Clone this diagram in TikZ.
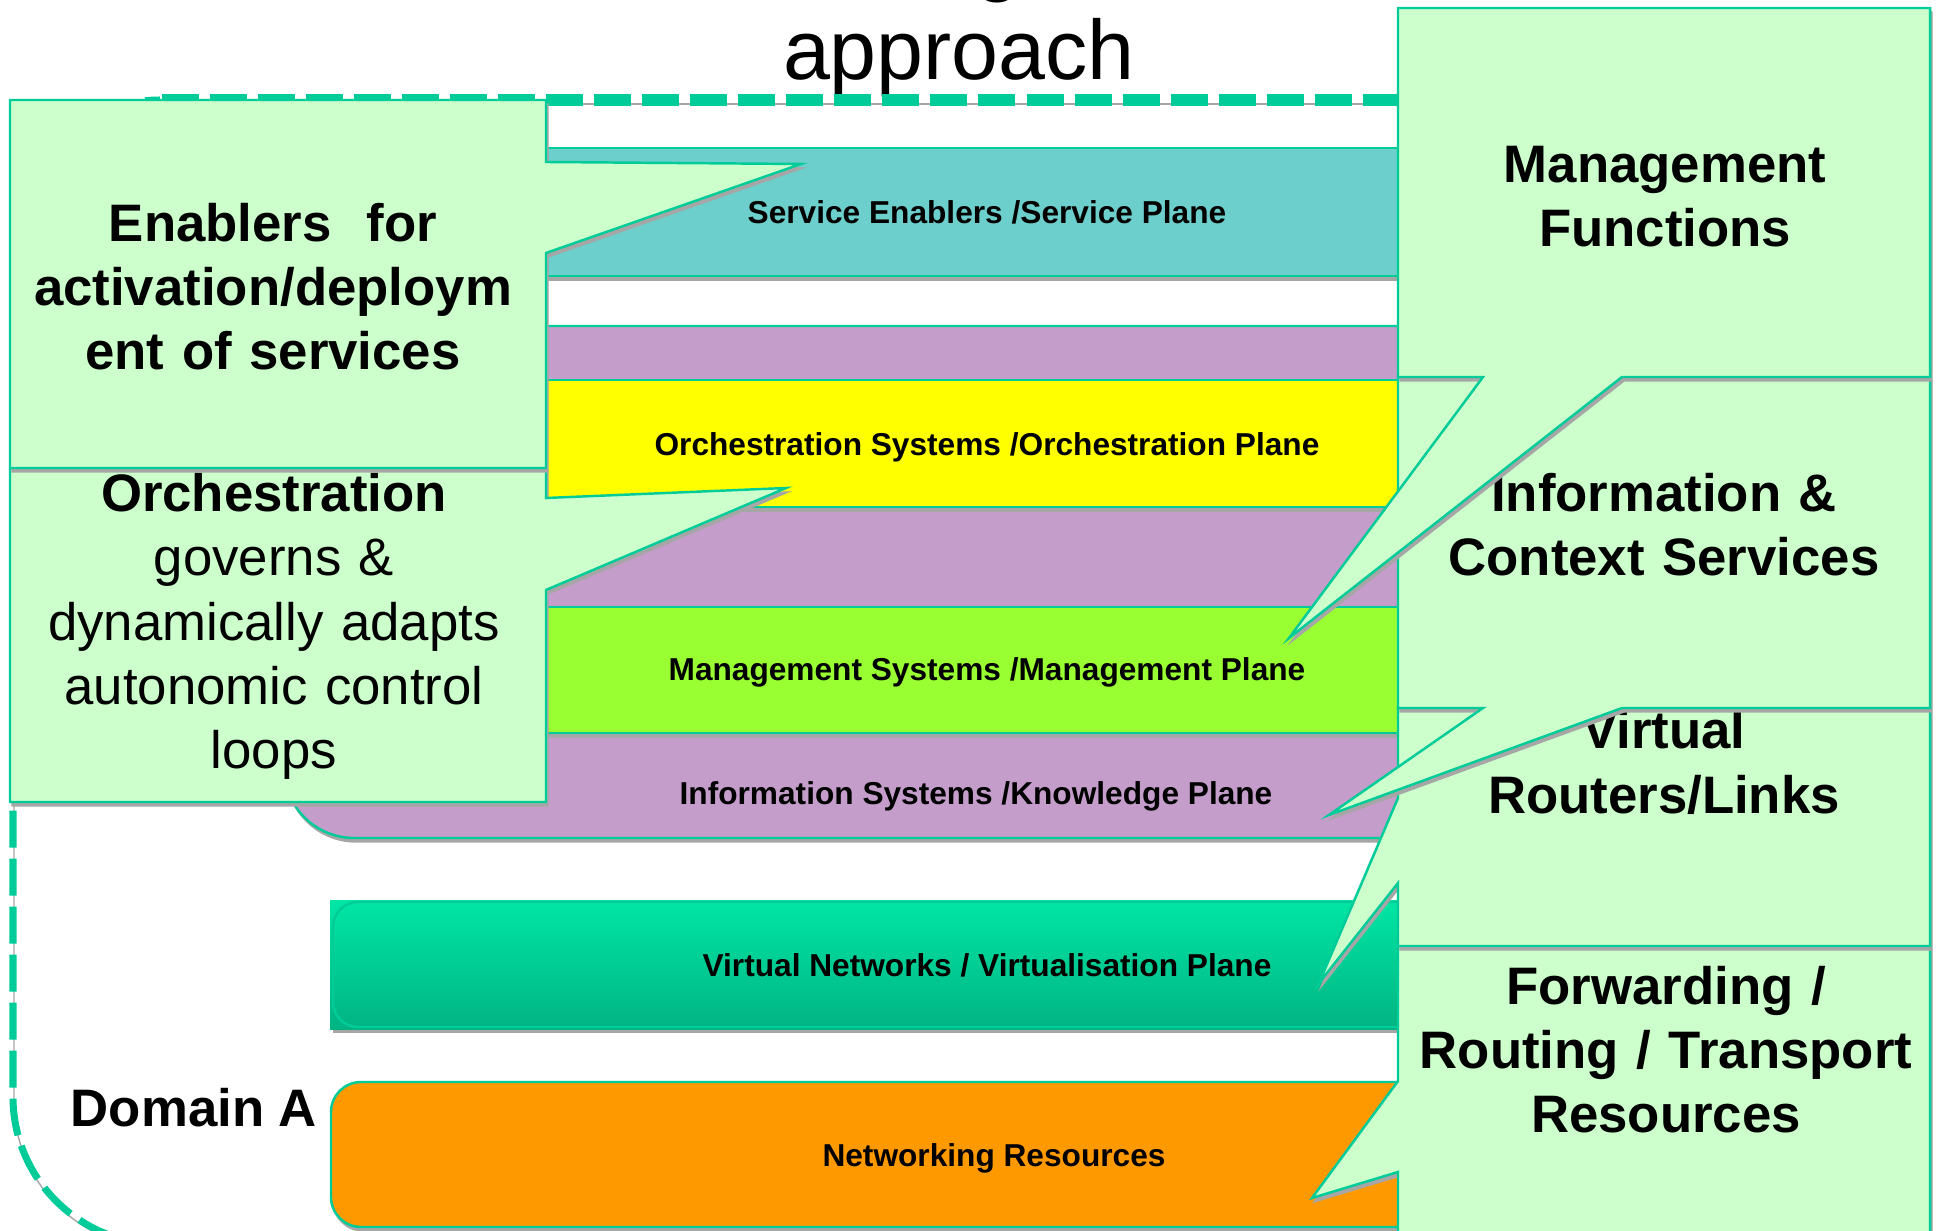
\documentclass[tikz,border=0pt]{standalone}
\usepackage{fontspec}
\setmainfont{Liberation Sans}
\definecolor{calloutfill}{HTML}{CCFFCC}
\definecolor{edgegreen}{HTML}{00CC99}
\definecolor{shadowgray}{HTML}{A6A6A6}
\definecolor{serviceteal}{HTML}{6CCFCB}
\definecolor{knowpurple}{HTML}{C49DCB}
\definecolor{orchyellow}{HTML}{FFFF00}
\definecolor{mgmtgreen}{HTML}{99FF33}
\definecolor{virttop}{HTML}{00E6A5}
\definecolor{virtbot}{HTML}{00B482}
\definecolor{resorange}{HTML}{FF9900}
\begin{document}
\begin{tikzpicture}[x=0.01cm,y=-0.01cm]

    \tikzset{
      drop/.style={
        preaction={fill=shadowgray, draw=shadowgray, transform canvas={shift={(2,4)}}},
      },
      band/.style={
        drop,
        draw=edgegreen,
        line width=0.7pt,
      },
      callout/.style={
        drop,
        fill=calloutfill,
        draw=edgegreen,
        line width=0.7pt,
      },
      domainline/.style={
        draw=edgegreen,
        dash pattern=on 0.37cm off 0.11cm,
        preaction={draw=shadowgray, transform canvas={shift={(1,4)}}},
      },
      planelabel/.style={
        anchor=base,
        font=\fontsize{9}{11}\selectfont\bfseries,
      },
      calloutlabel/.style={
        anchor=base,
        text width=5.3cm,
        align=center,
        inner sep=0pt,
        font=\fontsize{15}{18.2}\selectfont,
      },
      calloutbold/.style={
        calloutlabel,
        font=\fontsize{15}{18.2}\selectfont\bfseries,
      },
    }
    \useasboundingbox (0,0) rectangle (1939,1231);
    \clip (0,0) rectangle (1939,1231);

	\node[anchor=base, font=\fontsize{24}{29}\selectfont] (titleg) at (998,-14) {g};
	\node[anchor=base, font=\fontsize{24}{29}\selectfont] (title) at (959,80) {approach};

	\draw[domainline, line width=0.12cm] (162,100) -- (1500,100);
	\draw[domainline, line width=0.07cm, dash phase=0.22cm] (160,100) arc[start angle=270, end angle=180, radius=147] -- (13,1097) arc[start angle=180, end angle=90, radius=147];

	\draw[band, fill=knowpurple, rounded corners=0.7cm] (284,326) rectangle (1500,838);
	\draw[band, fill=serviceteal] (500,148) rectangle (1500,276);
	\draw[band, fill=orchyellow] (500,380) rectangle (1500,507);
	\draw[band, fill=mgmtgreen] (500,607) rectangle (1500,733);
	\fill[shadowgray] (333,905) rectangle (1500,1033);
	\shade[top color=virttop, bottom color=virtbot] (330,900) rectangle (1500,1029);
	\draw[edgegreen, line width=0.7pt, rounded corners=0.25cm] (333,902) rectangle (1510,1027);
	\draw[band, fill=resorange, rounded corners=0.3cm] (331,1082) rectangle (1500,1227);

	\node[planelabel] (serviceplane) at (987,224) {Service Enablers /Service Plane};
	\node[planelabel] (orchplane) at (987,456) {Orchestration Systems /Orchestration Plane};
	\node[planelabel] (mgmtplane) at (987,681) {Management Systems /Management Plane};
	\node[planelabel] (knowplane) at (976,805) {Information Systems /Knowledge Plane};
	\node[planelabel] (virtplane) at (987,976) {Virtual Networks / Virtualisation Plane};
	\node[planelabel] (netres) at (994,1166) {Networking Resources};

	\node[anchor=base, font=\fontsize{15}{18}\selectfont\bfseries] (domain) at (194,1126) {Domain A};

	\draw[callout] (10,468) -- (546,468) -- (546,498) -- (786,488) -- (546,590) -- (546,802) -- (10,802) -- cycle;
	\node[calloutlabel] (orchestration) at (274,512) {\textbf{Orchestration}\\governs \&\\dynamically adapts\\autonomic control\\loops};
	\draw[callout] (10,100) -- (546,100) -- (546,162) -- (801,164) -- (546,253) -- (546,468) -- (10,468) -- cycle;
	\node[calloutbold] (enablers) at (273,242) {Enablers~ for\\activation/deploym\\ent of services};

	\draw[callout] (1398,946) -- (1930,946) -- (1930,1260) -- (1398,1260) -- (1398,1172) -- (1312,1198) -- (1398,1081) -- cycle;
	\node[calloutbold] (forwarding) at (1666,1004) {Forwarding /\\Routing / Transport\\Resources};
	\draw[callout] (1398,708) -- (1930,708) -- (1930,946) -- (1398,946) -- (1398,883) -- (1319,983) -- (1398,798) -- cycle;
	\node[calloutbold] (routers) at (1664,749) {Virtual\\Routers/Links};
	\draw[callout] (1398,377) -- (1930,377) -- (1930,708) -- (1622,708) -- (1329,815) -- (1483,708) -- (1398,708) -- cycle;
	\node[calloutbold] (context) at (1664,512) {Information \&\\Context Services};
	\draw[callout] (1398,8) -- (1930,8) -- (1930,377) -- (1622,377) -- (1289,638) -- (1483,377) -- (1398,377) -- cycle;
	\node[calloutbold] (functions) at (1665,183) {Management\\Functions};

\end{tikzpicture}
\end{document}
